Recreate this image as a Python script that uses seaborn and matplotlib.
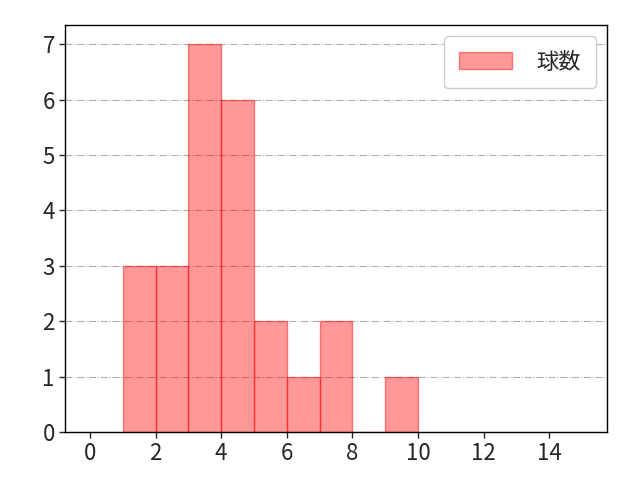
import matplotlib
matplotlib.use("Agg")
import matplotlib.pyplot as plt
import seaborn as sns
import pandas as pd

# pitch-count bins (left edges) and counts
bin_left = [1, 2, 3, 4, 5, 6, 7, 8, 9]
counts = [3, 3, 7, 6, 2, 1, 2, 0, 1]
bin_edges = list(range(1, 11))
xticks = [0, 2, 4, 6, 8, 10, 12, 14]
label = "球数"

sns.set_style("white")
plt.rcParams['font.family'] = ['Noto Sans CJK JP', 'DejaVu Sans']

df = pd.DataFrame({"x": [b + 0.5 for b in bin_left], "w": counts})

fig, ax = plt.subplots(figsize=(6.4, 4.8), dpi=100)
ax.set_axisbelow(True)
sns.histplot(data=df, x="x", weights="w", bins=bin_edges, ax=ax,
             facecolor=(1, 0, 0, 0.4), edgecolor=(1, 0, 0, 0.45), linewidth=1,
             label=label)
ax.set_xlim(-0.75, 15.75)
ax.set_ylim(0, 7.35)
ax.set_xticks(xticks)
ax.set_xlabel("")
ax.set_ylabel("")
ax.grid(axis="y", linestyle="-.", color="#b0b0b0", linewidth=0.8)
ax.tick_params(labelsize=16, length=4, width=1, bottom=True, left=True)
for s in ax.spines.values():
    s.set_color("black")
    s.set_linewidth(1)
ax.legend(loc="upper right", fontsize=16, handlelength=2.4, handleheight=0.8,
          handletextpad=1.1, framealpha=1, borderpad=0.65)
fig.subplots_adjust(left=0.102, right=0.948, top=0.948, bottom=0.1)
fig.savefig("out.png", dpi=100)
